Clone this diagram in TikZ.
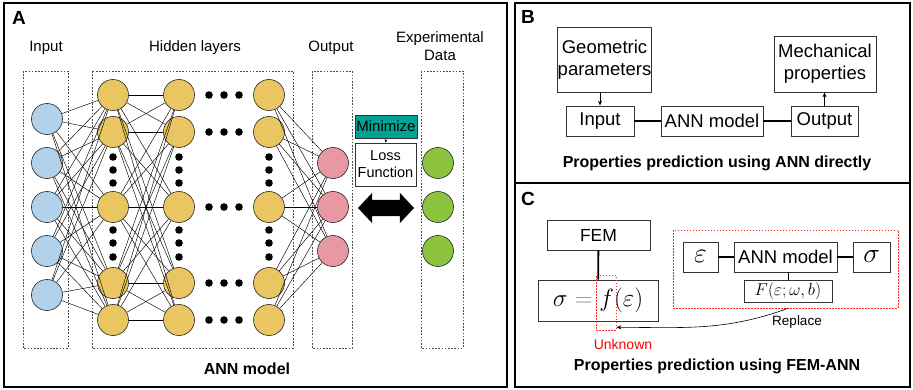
\documentclass[tikz,border=0pt]{standalone}
\usepackage{fontspec}
\setmainfont{Liberation Sans}
\usetikzlibrary{positioning,arrows.meta,shapes.arrows}

\definecolor{inblue}{RGB}{178,210,235}
\definecolor{hidyellow}{RGB}{234,198,98}
\definecolor{outpink}{RGB}{232,152,162}
\definecolor{expgreen}{RGB}{140,196,64}
\definecolor{minteal}{RGB}{0,163,150}

\begin{document}
\begin{tikzpicture}[
    x=1pt, y=1pt,
    panel/.style={draw, line width=1.3pt},
    layerbox/.style={draw=black!70, dash pattern=on 1.6pt off 1.6pt, line width=0.7pt},
    neuron/.style={circle, draw=black!85, line width=0.6pt, minimum size=31pt, inner sep=0pt},
    link/.style={line width=0.45pt},
    headtext/.style={font=\fontsize{15}{18}\selectfont, align=center},
    tagtext/.style={font=\bfseries\fontsize{19}{22}\selectfont},
    blockbox/.style={draw=black!80, line width=0.8pt, inner sep=0pt, align=center},
    btext/.style={font=\fontsize{18.5}{22}\selectfont},
    bond/.style={line width=1.8pt},
    smallarrow/.style={-{Stealth[length=5pt,width=4pt]}, line width=0.8pt},
    caption/.style={font=\bfseries\fontsize{16}{19}\selectfont},
    reddash/.style={draw=red!85, dash pattern=on 1.5pt off 1.5pt, line width=0.7pt},
]

\useasboundingbox (0,0) rectangle (913,-390);

% Panels
\draw[panel] (4,-3) rectangle (507,-387);
\draw[panel] (515,-3) rectangle (910,-183);
\draw[panel] (515,-183) rectangle (910,-387);
\node[tagtext] (tagA) at (19,-18) {A};
\node[tagtext] (tagB) at (528,-17) {B};
\node[tagtext] (tagC) at (528,-199) {C};

% Panel A: layer boxes and titles
\draw[layerbox] (23,-71) rectangle (68,-348);
\draw[layerbox] (92,-71) rectangle (293,-348);
\draw[layerbox] (312,-71) rectangle (352,-348);
\draw[layerbox] (421,-71) rectangle (463,-348);
\node[headtext] (tin) at (46,-48) {Input};
\node[headtext] (thid) at (195,-48) {Hidden layers};
\node[headtext] (tout) at (331,-48) {Output};
\node[headtext] (texp) at (440,-46) {Experimental\\Data};
\node[caption] (capA) at (247,-369) {ANN model};

% Neurons
\foreach \r/\y in {1/119,2/163,3/207,4/251,5/295}
  \node[neuron, fill=inblue] (i\r) at (47,-\y) {};
\foreach \c/\x in {1/113,2/179,3/269}
  \foreach \r/\y in {1/95,2/132,3/207,4/283,5/320}
    \node[neuron, fill=hidyellow] (h\c\r) at (\x,-\y) {};
\foreach \r/\y in {1/163,2/207,3/251} {
  \node[neuron, fill=outpink] (o\r) at (333,-\y) {};
  \node[neuron, fill=expgreen] (e\r) at (438,-\y) {};
}

% Links
\foreach \a in {1,...,5}
  \foreach \b in {1,...,5} {
    \draw[link] (i\a) -- (h1\b);
    \draw[link] (h1\a) -- (h2\b);
  }
\foreach \a in {1,...,5}
  \foreach \b in {1,2,3}
    \draw[link] (h3\a) -- (o\b);

% Dots
\foreach \y in {95,132,207,283,320}
  \foreach \x in {209,224,239}
    \fill (\x,-\y) circle (3.8);
\foreach \x in {113,179,269}
  \foreach \y in {157,170,183,230,243,257}
    \fill (\x,-\y) circle (3.8);

% Loss
\node[blockbox, fill=minteal, minimum width=62, minimum height=23, font=\fontsize{15}{18}\selectfont] (mini) at (386,-126.5) {Minimize};
\node[blockbox, minimum width=61, minimum height=43, font=\fontsize{14.5}{17}\selectfont] (loss) at (385.5,-164.5) {Loss\\Function};
\draw[-{Stealth[length=3pt,width=3pt]}, line width=0.6pt] (mini) -- (loss);
\node[double arrow, fill=black, inner xsep=0pt, inner ysep=8pt, minimum height=56pt,
      double arrow head extend=7pt, double arrow tip angle=94] (match) at (386,-208) {};

% Panel B
\node[blockbox, btext, minimum width=93, minimum height=65] (geo) at (604.5,-59.5) {Geometric\\parameters};
\node[blockbox, btext, minimum width=102, minimum height=56] (mech) at (825,-64) {Mechanical\\properties};
\node[blockbox, btext, minimum width=68, minimum height=30] (inp) at (600,-121) {Input};
\node[blockbox, btext, minimum width=102, minimum height=30] (annB) at (712,-121) {ANN model};
\node[blockbox, btext, minimum width=67, minimum height=30] (outp) at (824.5,-121) {Output};
\draw[bond] (inp) -- (annB);
\draw[bond] (annB) -- (outp);
\draw[smallarrow] (inp.north |- geo.south) -- (inp.north);
\draw[smallarrow] (outp.north) -- (outp.north |- mech.south);
\node[caption] (capB) at (717,-163) {Properties prediction using ANN directly};

% Panel C
\node[blockbox, minimum width=103, minimum height=30, font=\fontsize{17.5}{20}\selectfont] (fem) at (598.5,-235) {FEM};
\node[blockbox, minimum width=120, minimum height=41, font=\fontsize{24.88}{28}\selectfont] (law) at (598,-300.5) {$\sigma \mathrel{{\color{black!45}=}} f(\varepsilon)$};
\draw[bond] (fem) -- (law);
\node[reddash, minimum width=20, minimum height=55, inner sep=0pt] (unkbox) at (606,-302.5) {};
\node[text=red, font=\fontsize{14}{16}\selectfont] (unk) at (623,-344) {Unknown};

\node[reddash, minimum width=225, minimum height=78, inner sep=0pt] (annbox) at (785.5,-269) {};
\node[blockbox, minimum width=35, minimum height=30, font=\fontsize{24.88}{28}\selectfont] (strain) at (700.5,-257) {\scalebox{1.12}{$\varepsilon$}};
\node[blockbox, btext, minimum width=103, minimum height=30] (annC) at (785.5,-257) {ANN model};
\node[blockbox, minimum width=37, minimum height=30, font=\fontsize{24.88}{28}\selectfont] (stress) at (871.5,-257) {\scalebox{1.12}{$\sigma$}};
\node[blockbox, minimum width=88, minimum height=22, font=\fontsize{17.28}{20}\selectfont] (fbox) at (788,-291) {$F(\varepsilon;\omega,b)$};
\draw[bond] (strain) -- (annC);
\draw[bond] (annC) -- (stress);
\draw[line width=0.6pt] (annC.south -| fbox.north) -- (fbox.north);
\draw[-{Stealth[length=5pt,width=4pt]}, line width=0.6pt] (annbox.south -| fbox.south) to[out=200, in=0] ([yshift=3pt]unkbox.south east);
\node[font=\fontsize{13.5}{16}\selectfont] (repl) at (797,-322) {Replace};
\node[caption] (capC) at (717,-366) {Properties prediction using FEM-ANN};

\end{tikzpicture}
\end{document}
